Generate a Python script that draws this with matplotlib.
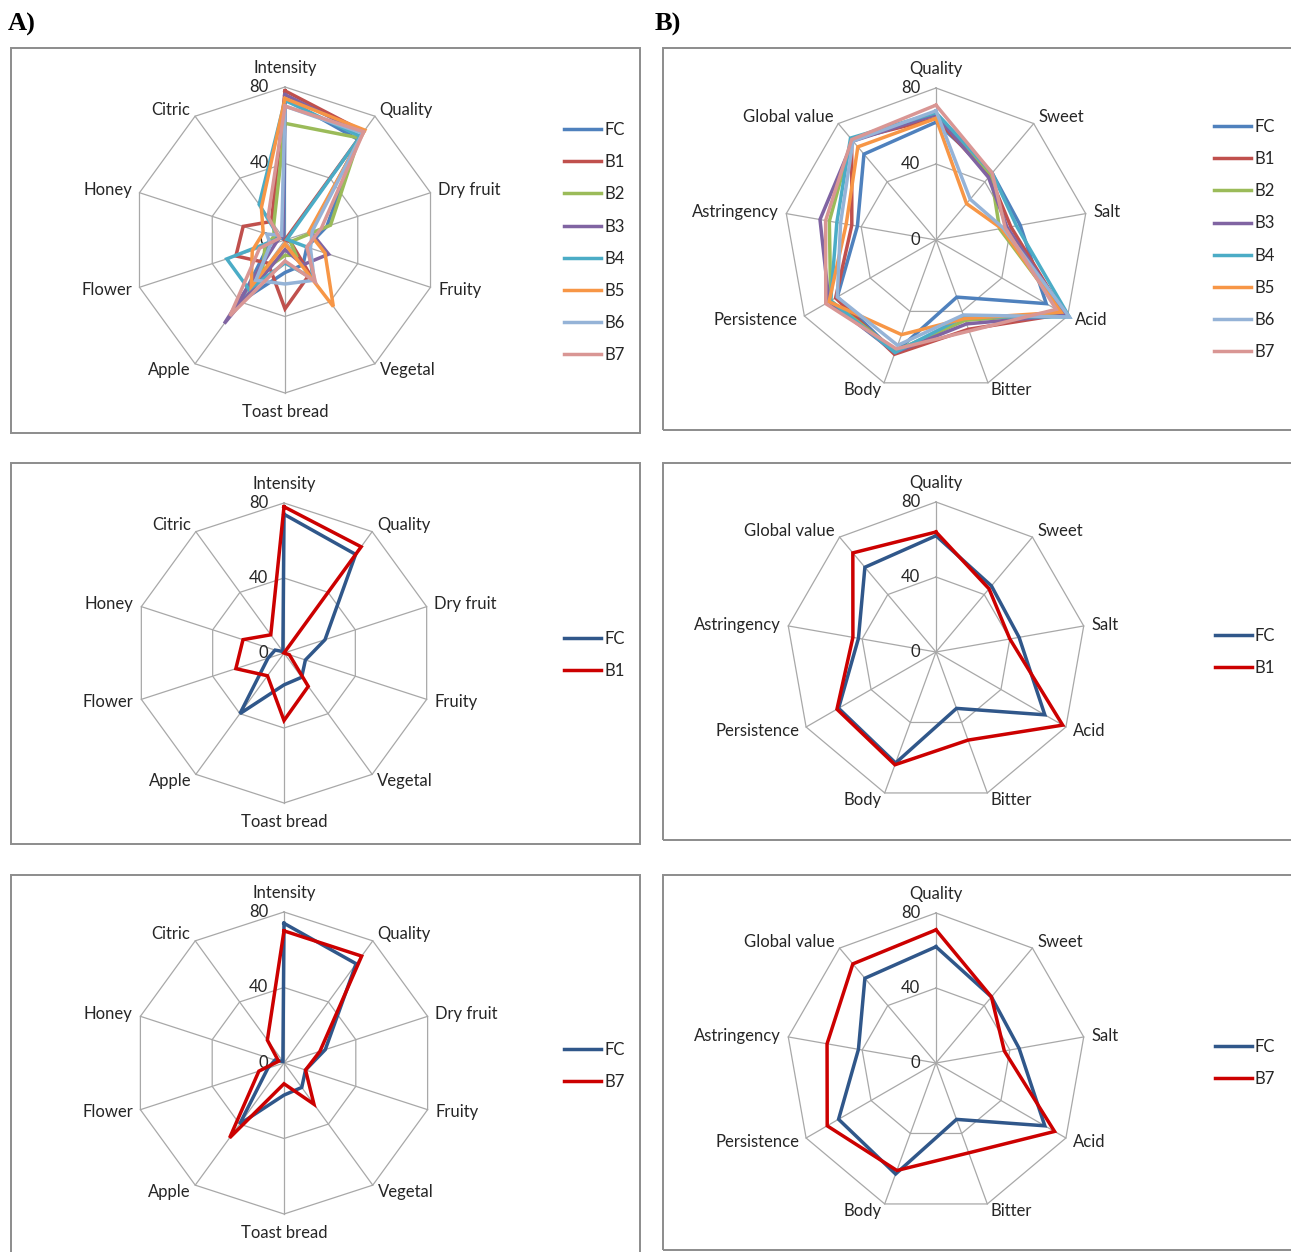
import numpy as np
import matplotlib
matplotlib.use("Agg")
import matplotlib.pyplot as plt
from matplotlib.patches import Rectangle

plt.rcParams['font.family'] = ['Lato', 'DejaVu Sans']

# ---- data (scale 0-80) ----
aroma_labels = ["Intensity", "Quality", "Dry fruit", "Fruity", "Vegetal",
                "Toast bread", "Apple", "Flower", "Honey", "Citric"]
taste_labels = ["Quality", "Sweet", "Salt", "Acid", "Bitter", "Body",
                "Persistence", "Astringency", "Global value"]
samples = ["FC", "B1", "B2", "B3", "B4", "B5", "B6", "B7"]

aroma_fc = [74, 65, 23, 12, 16, 17, 40, 9, 5, 1]
aroma_b1 = [78, 70, 0, 3, 22, 36, 15, 27, 23, 12]
aroma_b2 = [61, 66, 25, 3, 10, 8, 20, 11, 6, 10]
aroma_b3 = [76, 69, 14, 24, 16, 5, 54, 5, 3, 2]
aroma_b4 = [73, 67, 1, 13, 25, 12, 32, 32, 3, 23]
aroma_b5 = [74, 71, 13, 22, 43, 2, 30, 18, 12, 21]
aroma_b6 = [70, 69, 15, 14, 26, 23, 26, 8, 10, 3]
aroma_b7 = [70, 70, 20, 12, 27, 11, 49, 14, 3, 15]

taste_fc = [62, 46, 45, 67, 32, 63, 60, 42, 59]
taste_b1 = [64, 44, 40, 78, 50, 64, 61, 45, 69]
taste_b2 = [66, 45, 34, 77, 45, 62, 64, 57, 69]
taste_b3 = [66, 43, 38, 79, 47, 63, 65, 62, 68]
taste_b4 = [67, 46, 43, 81, 43, 63, 64, 53, 70]
taste_b5 = [64, 25, 35, 76, 44, 53, 65, 48, 64]
taste_b6 = [68, 28, 36, 81, 42, 59, 60, 51, 68]
taste_b7 = [71, 46, 37, 73, 51, 61, 67, 59, 69]

rings = [0, 40, 80]

aroma = dict(zip(samples, [aroma_fc, aroma_b1, aroma_b2, aroma_b3,
                           aroma_b4, aroma_b5, aroma_b6, aroma_b7]))
taste = dict(zip(samples, [taste_fc, taste_b1, taste_b2, taste_b3,
                           taste_b4, taste_b5, taste_b6, taste_b7]))

all_colors = ["#4F81BD", "#C0504D", "#9BBB59", "#8064A2",
              "#4BACC6", "#F79646", "#95B3D7", "#D99694"]
pair_colors = ["#30578A", "#CC0000"]

W, H = 1291, 1252
fig = plt.figure(figsize=(W / 100, H / 100), dpi=100)
TXT = "#262626"
GRID = "#A8A8A8"
FS = 12


def px_box(x0, y0, w, h):
    return [x0 / W, 1 - (y0 + h) / H, w / W, h / H]


def frame(x0, y0, x1, y1):
    fig.add_artist(Rectangle((x0 / W, 1 - y1 / H), (x1 - x0) / W, (y1 - y0) / H,
                             transform=fig.transFigure, fill=False,
                             edgecolor="#8C8C8C", lw=1.4))


def radar(cx, cy, r80, labels, series, names, colors, leg_x, leg_y):
    ax = fig.add_axes(px_box(cx - r80, cy - r80, 2 * r80, 2 * r80),
                      projection='polar')
    ax.set_theta_zero_location('N')
    ax.set_theta_direction(-1)
    ax.set_ylim(0, 80)
    ax.axis('off')
    n = len(labels)
    th = np.arange(n) * 2 * np.pi / n
    thc = np.append(th, th[0])
    for r in rings[1:]:
        ax.plot(thc, [r] * (n + 1), color=GRID, lw=0.9, zorder=1, clip_on=False)
    for t in th:
        ax.plot([t, t], [0, 80], color=GRID, lw=0.9, zorder=1, clip_on=False)
    for r in rings:
        ax.annotate(str(r), xy=(0, r), xytext=(-16, 0), textcoords='offset pixels',
                    ha='right', va='center', fontsize=FS, color=TXT,
                    annotation_clip=False)
    for t, lab in zip(th, labels):
        s, c = np.sin(t), np.cos(t)
        if abs(s) < 0.1:
            ha = 'center'
            va = 'bottom' if c > 0 else 'top'
            off = (0, 11 if c > 0 else -11)
        else:
            ha = 'left' if s > 0 else 'right'
            va = 'center'
            off = (8 * s, 8 * c)
        ax.annotate(lab, xy=(t, 80), xytext=off, textcoords='offset pixels',
                    ha=ha, va=va, fontsize=FS, color=TXT, annotation_clip=False)
    handles = []
    for k, (name, col) in enumerate(zip(names, colors)):
        vals = series[name]
        ln, = ax.plot(thc, vals + vals[:1], color=col, lw=2.5, zorder=3 + k,
                      clip_on=False, solid_joinstyle='miter', label=name)
        handles.append(ln)
    ax.legend(handles=handles, loc='upper left',
              bbox_to_anchor=(leg_x / W, 1 - leg_y / H),
              bbox_transform=fig.transFigure, frameon=False, fontsize=FS,
              handlelength=2.2, handletextpad=0.2, labelspacing=0.97,
              borderpad=0, borderaxespad=0, labelcolor=TXT)
    return ax


# panel frames
frame(11, 48, 640, 433)
frame(663, 48, 1300, 430)
frame(11, 463, 640, 844)
frame(663, 463, 1300, 840)
frame(11, 875, 640, 1300)
frame(663, 875, 1300, 1250)

radar(285, 240, 153, aroma_labels, aroma, samples, all_colors, 564, 122)
radar(936, 240, 152, taste_labels, taste, samples, all_colors, 1214, 119)
radar(284, 653, 150, aroma_labels, aroma, ["FC", "B1"], pair_colors, 564, 631)
radar(936, 652, 150, taste_labels, taste, ["FC", "B1"], pair_colors, 1215, 628)
radar(284, 1063, 151, aroma_labels, aroma, ["FC", "B7"], pair_colors, 564, 1042)
radar(936, 1063, 150, taste_labels, taste, ["FC", "B7"], pair_colors, 1215, 1039)

fig.text(8 / W, 1 - 31 / H, "A)", family="Liberation Serif", weight="bold",
         fontsize=19, color="black")
fig.text(655 / W, 1 - 31 / H, "B)", family="Liberation Serif", weight="bold",
         fontsize=19, color="black")

fig.savefig("out.png", dpi=100)
